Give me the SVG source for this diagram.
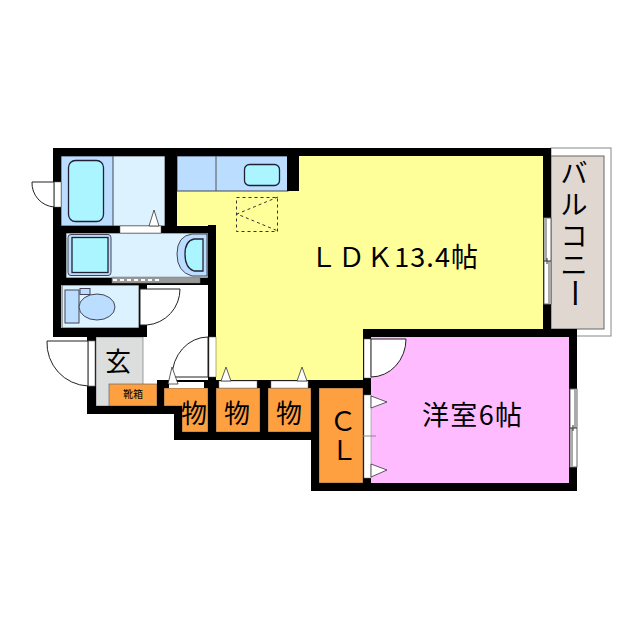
<svg xmlns="http://www.w3.org/2000/svg" width="640" height="640" viewBox="0 0 640 640">
<style>
.w rect{fill:#000}
.gap{fill:#fff}
.l{stroke:#555;stroke-width:1}
.fix{fill:#BBDDFF;stroke:#445;stroke-width:1}
.floor{fill:#DDF2FF;stroke:#555;stroke-width:1}
.tub{fill:#AAF5FF;stroke:#223;stroke-width:1.3}
.stor{fill:#FFA040;stroke:#666;stroke-width:.7}
.door{fill:#fff;stroke:#222;stroke-width:1}
.tri{fill:#fff;stroke:#333;stroke-width:.8}
.t{font-family:"Noto Sans CJK JP","Liberation Sans",sans-serif;fill:#000;text-anchor:middle}
</style>
<g id="balcony"><rect x="551" y="148" width="60" height="188" fill="#fff" stroke="#888"/><rect x="551" y="156" width="53" height="173" fill="#E0D8D0" stroke="#666"/>
<text class="t" font-size="27" x="574" y="183">バ</text><text class="t" font-size="27" x="574" y="215">ル</text><text class="t" font-size="27" x="574" y="246">コ</text><text class="t" font-size="27" x="574" y="275">ニ</text><text class="t" font-size="30" x="575" y="304" transform="rotate(90 575 293)">ー</text></g>
<g id="ldk"><path d="M177 156H545V329H363V380H216V225H177Z" fill="#FFFF99"/>
<text class="t" font-size="27" x="394" y="267" textLength="168" lengthAdjust="spacing">ＬＤＫ13.4帖</text>
<rect x="236.500" y="197.500" width="41" height="34" fill="none" stroke="#333" stroke-dasharray="3 3"/><path d="M278 197L237 214L278 231" fill="none" stroke="#333" stroke-dasharray="3 3"/></g>
<g id="kitchen"><rect x="177" y="156" width="111" height="35" class="fix"/><path d="M216 156V191" class="l"/><rect x="244.500" y="164.500" width="35" height="21" rx="5" class="tub"/></g>
<g id="bath"><rect x="61" y="156" width="104" height="70" class="floor"/><rect x="61" y="156" width="52" height="70" class="fix"/><rect x="68.500" y="160.500" width="35" height="61" rx="7" class="tub"/></g>
<g id="wash"><rect x="66" y="233" width="142" height="45" class="floor"/><rect x="68" y="234.500" width="43" height="41" rx="3" class="fix"/><rect x="72" y="237.500" width="36" height="35" class="tub"/>
<path d="M207 234H192Q177 236 177 254Q177 272 192 276H207Z" class="fix"/><path d="M203 239H194Q185 241 185 254Q185 268 194 271H203Z" class="tub"/></g>
<g id="toilet"><rect x="62" y="285" width="77" height="43" class="floor"/><rect x="65" y="290" width="14" height="33" class="fix"/><rect x="80" y="288.500" width="10" height="6" class="fix"/><ellipse cx="97" cy="307" rx="18" ry="13" class="fix"/></g>
<g id="genkan"><rect x="96" y="337" width="47" height="69" fill="#DCDEDE" stroke="#777" stroke-width=".7"/><text class="t" font-size="26" x="118" y="371">玄</text></g>
<g id="shoes"><rect x="109" y="384" width="48" height="22" class="stor"/><text class="t" font-size="10" x="133" y="398">靴箱</text></g>
<g id="mono1"><path d="M164 388H208V432H182V406H164Z" class="stor"/><text class="t" font-size="26" x="194" y="423">物</text></g>
<g id="mono2"><rect x="216" y="388" width="44" height="44" class="stor"/><text class="t" font-size="26" x="237" y="423">物</text></g>
<g id="mono3"><rect x="268" y="388" width="43" height="44" class="stor"/><text class="t" font-size="26" x="289" y="423">物</text></g>
<g id="cl"><rect x="319" y="388" width="44" height="95" class="stor"/><text class="t" font-size="27" x="343" y="431">Ｃ</text><text class="t" font-size="27" x="344" y="460">Ｌ</text></g>
<g id="room"><rect x="371" y="337" width="198" height="146" fill="#FFBBFF"/><text class="t" font-size="27" x="472" y="425" textLength="100" lengthAdjust="spacing">洋室6帖</text></g>
<g id="walls" class="w">
<rect x="53" y="148" width="498" height="8"/>
<rect x="53" y="148" width="8" height="189"/>
<rect x="165" y="148" width="12" height="85"/>
<rect x="287" y="156" width="12" height="35"/>
<rect x="543" y="148" width="8" height="189"/>
<rect x="53" y="226" width="163" height="7"/>
<rect x="61" y="233" width="5" height="52"/>
<rect x="53" y="278" width="163" height="7"/>
<rect x="208" y="225" width="8" height="215"/>
<rect x="139" y="278" width="8" height="59"/>
<rect x="53" y="328" width="94" height="9"/>
<rect x="87" y="337" width="9" height="77"/>
<rect x="87" y="406" width="95" height="8"/>
<rect x="157" y="380" width="214" height="8"/>
<rect x="157" y="380" width="7" height="34"/>
<rect x="174" y="406" width="8" height="34"/>
<rect x="174" y="432" width="145" height="8"/>
<rect x="260" y="380" width="8" height="60"/>
<rect x="311" y="380" width="8" height="111"/>
<rect x="311" y="483" width="266" height="8"/>
<rect x="363" y="329" width="214" height="8"/>
<rect x="363" y="329" width="8" height="162"/>
<rect x="569" y="329" width="8" height="162"/>
</g>
<g id="connectors">
<rect x="112" y="277" width="88" height="6" fill="#999" stroke="#777" stroke-width=".5"/><path d="M113 280H160" stroke="#fff" stroke-width="2" stroke-dasharray="4 3"/>
<rect x="120" y="226" width="41" height="7" class="gap" stroke="#555" stroke-width=".5"/><path class="tri" d="M149 226L154 210L159 226Z"/>
<rect x="54" y="182" width="7" height="25" class="gap" stroke="#666" stroke-width=".5"/><path class="door" d="M32 182H54V207A24 24 0 0 1 32 182Z"/>
<path class="door" d="M140 289H180A36 36 0 0 1 147 325H140Z"/>
<rect x="88" y="341" width="7" height="45" class="gap" stroke="#777" stroke-width=".7"/><path class="door" d="M47 341H88V386A43 43 0 0 1 47 341Z"/>
<rect x="209" y="337" width="7" height="40" class="gap" stroke="#555" stroke-width=".5"/><path class="door" d="M208 337A36 40 0 0 0 172 377H208Z"/>
<rect x="169" y="382" width="35" height="6" class="gap"/><rect x="219" y="381" width="38" height="7" fill="#fff" stroke="#777" stroke-width=".5"/><rect x="271" y="381" width="37" height="7" fill="#fff" stroke="#777" stroke-width=".5"/>
<path class="tri" d="M172 367L168 384H178Z"/><path class="tri" d="M226 367L221 381H231Z"/><path class="tri" d="M302 367L297 381H307Z"/>
<rect x="364" y="339" width="7" height="39" class="gap" stroke="#555" stroke-width=".5"/><path class="door" d="M371 339H406A35 38 0 0 1 371 377Z"/>
<rect x="364" y="395" width="7" height="83" class="gap" stroke="#777" stroke-width=".5"/><path d="M363 436H376" stroke="#888"/>
<path class="tri" d="M371 396L387 402L371 408Z"/><path class="tri" d="M371 464L387 470L371 477Z"/>
<rect x="544" y="218" width="7" height="86" fill="#fff" stroke="#666"/><rect x="544" y="218" width="3" height="43" fill="#aaa"/><rect x="548" y="261" width="3" height="43" fill="#aaa"/><path d="M544 261H551M547 258V264" stroke="#333"/>
<rect x="570" y="389" width="7" height="78" fill="#fff" stroke="#666"/><rect x="570" y="428" width="3" height="39" fill="#aaa"/><rect x="574" y="389" width="3" height="39" fill="#aaa"/><path d="M570 428H577M573 425V431" stroke="#333"/>
</g>
</svg>
